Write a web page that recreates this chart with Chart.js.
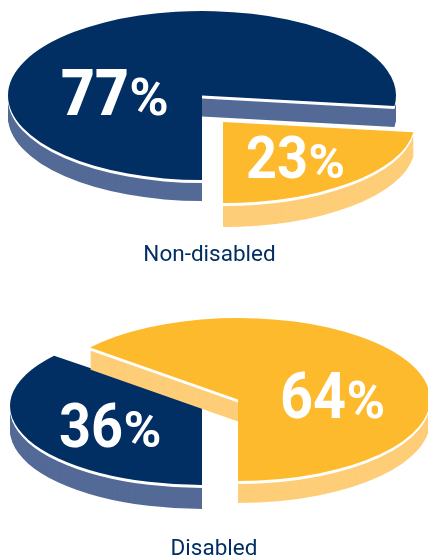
<!DOCTYPE html>
<html>
<head>
<meta charset="utf-8">
<script src="https://cdn.jsdelivr.net/npm/chart.js@4"></script>
<style>
html, body { margin: 0; padding: 0; background: #fff; overflow: hidden; }
canvas { position: absolute; left: 0; }
#pieTop { top: 0; }
#pieBottom { top: 280px; }
</style>
</head>
<body>
<canvas id="pieTop" width="428" height="272"></canvas>
<canvas id="pieBottom" width="428" height="286"></canvas>
<script>
var sliceNames = ['Blue share', 'Gold share'];
var nonDisabledValues = [77, 23];
var disabledValues = [36, 64];
var pieTitles = ['Non-disabled', 'Disabled'];

var NAVY = '#012f63';
var NAVY_SIDE = '#546a97';
var GOLD = '#fdba2d';
var GOLD_SIDE = '#fecd78';
var WHITE_RIM = 3;

// Tilts each slice, gives it a thick rim and writes its percentage
var tiltedPie = {
    id: 'tiltedPie',
    afterDatasetsUpdate: function (chart, args, opts) {
        var arcs = chart.getDatasetMeta(0).data;
        arcs.forEach(function (arc, i) {
            arc.x = opts.slices[i].x;
            arc.y = opts.slices[i].y;
            arc.outerRadius = opts.slices[i].r;
        });
    },
    beforeDatasetDraw: function (chart, args, opts) {
        var ctx = chart.ctx;
        var arcs = chart.getDatasetMeta(0).data;

        arcs.forEach(function (arc, i) {
            var slice = opts.slices[i];
            var baseOptions = arc.options;

            for (var d = slice.depth; d >= 0; d--) {
                var color = d === 0 ? slice.top : (d <= WHITE_RIM ? '#ffffff' : slice.side);
                arc.options = Object.assign({}, baseOptions, { backgroundColor: color });
                ctx.save();
                ctx.translate(arc.x, arc.y + d);
                ctx.scale(1, slice.ry / slice.r);
                ctx.translate(-arc.x, -arc.y);
                arc.draw(ctx);
                ctx.restore();
            }
            arc.options = baseOptions;
        });

        arcs.forEach(function (arc, i) {
            var slice = opts.slices[i];
            var value = String(chart.data.datasets[0].data[i]);

            ctx.save();
            ctx.fillStyle = '#ffffff';
            ctx.textBaseline = 'alphabetic';
            ctx.translate(slice.labelX, slice.labelY);
            ctx.scale(slice.squeeze, 1);
            ctx.font = (slice.weight || 700) + ' ' + slice.size + 'px Roboto';
            ctx.fillText(value, 0, 0);
            var w = ctx.measureText(value).width;
            // the percent sign sits on the same baseline, smaller but wider
            ctx.translate(w + 0.5, 0);
            ctx.scale(1.14, 1);
            ctx.font = '700 ' + Math.round(slice.size * 0.8) + 'px Roboto';
            ctx.fillText('%', 0, 0);
            ctx.restore();
        });

        return false;
    }
};

function makePie(id, values, title, slices, rightPad) {
    return new Chart(document.getElementById(id), {
        type: 'pie',
        data: {
            labels: sliceNames,
            datasets: [{
                data: values,
                backgroundColor: [NAVY, GOLD],
                borderWidth: 0,
                radius: 194
            }]
        },
        options: {
            responsive: false,
            animation: false,
            rotation: 180,
            events: [],
            layout: { padding: { right: rightPad } },
            plugins: {
                legend: { display: false },
                tooltip: { enabled: false },
                title: {
                    display: true,
                    position: 'bottom',
                    text: title,
                    color: NAVY,
                    font: { family: 'Roboto', size: 22.5, weight: '400' },
                    padding: { top: 0, bottom: 3 }
                },
                tiltedPie: { slices: slices }
            }
        },
        plugins: [tiltedPie]
    });
}

makePie('pieTop', nonDisabledValues, pieTitles[0], [
    { x: 202, y: 95.5, r: 194, ry: 84.5, depth: 21, top: NAVY, side: NAVY_SIDE, labelX: 61, labelY: 115, size: 65, squeeze: 0.9, weight: 900 },
    { x: 223, y: 122, r: 192, ry: 81, depth: 24, top: GOLD, side: GOLD_SIDE, labelX: 246, labelY: 178, size: 60, squeeze: 0.9 }
], 9);

makePie('pieBottom', disabledValues, pieTitles[1], [
    { x: 202, y: 126, r: 192, ry: 79, depth: 24, top: NAVY, side: NAVY_SIDE, labelX: 59, labelY: 167, size: 62, squeeze: 0.9 },
    { x: 238, y: 119.5, r: 192, ry: 81.5, depth: 22, top: GOLD, side: GOLD_SIDE, labelX: 280, labelY: 138, size: 64, squeeze: 0.9 }
], 0);
</script>
</body>
</html>
